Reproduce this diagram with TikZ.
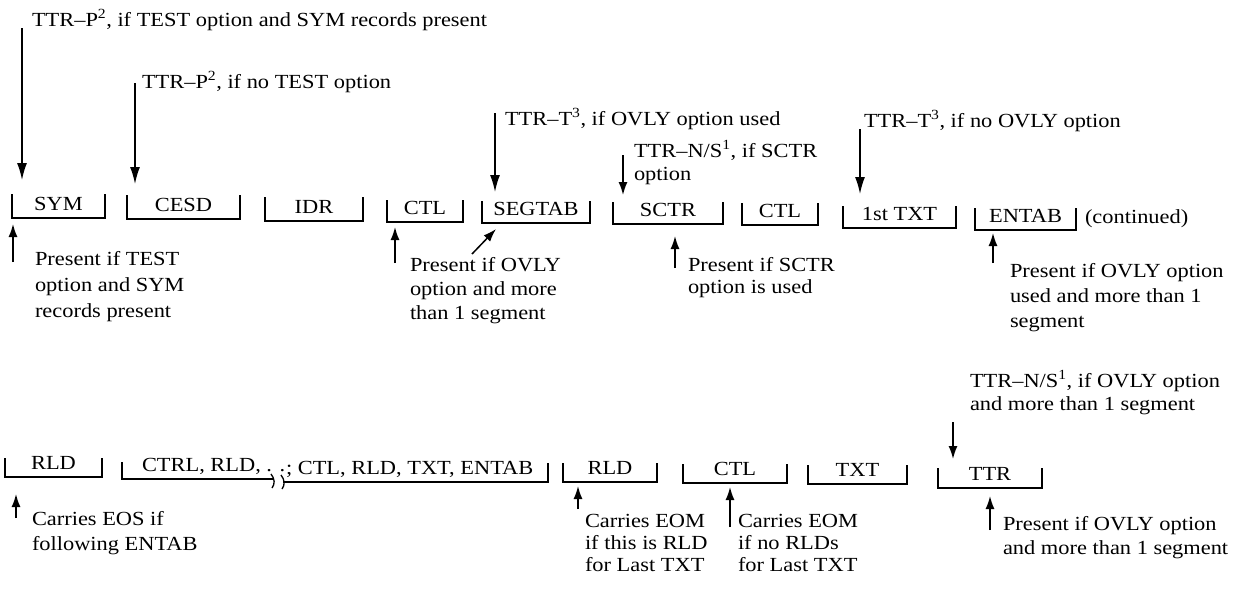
\documentclass[tikz,border=0pt]{standalone}
\usepackage{fontspec}
\setmainfont{Liberation Serif}[FakeStretch=1.12]
\usetikzlibrary{arrows.meta}
\tikzset{
  lbl/.style={font=\fontsize{20}{24}\selectfont, inner sep=0pt, outer sep=0pt},
  note/.style={inner sep=0pt, outer sep=0pt, align=left, anchor=base west, font=\fontsize{20}{#1}\selectfont},
  note/.default=24,
  brk/.style={line width=1.7pt},
  arr/.style={line width=1.5pt, -{Latex[length=13pt,width=9pt]}},
  bigarr/.style={line width=1.5pt, -{Latex[length=17pt,width=10pt]}},
}
% name, left, right, bottom, tick height, label
\newcommand\recbox[6]{%
  \draw[brk] (#2,#4-#5) -- (#2,#4) -- (#3,#4) -- (#3,#4-#5);
  \node[lbl,anchor=base] (#1) at ({(#2+#3)/2},#4-8) {#6};
}
\begin{document}
\begin{tikzpicture}[x=1pt,y=-1pt]
\useasboundingbox (0,0) rectangle (1251,590);

% ---------- top row ----------
\recbox{sym}{12}{105}{218}{24}{SYM}
\recbox{cesd}{127}{240}{219}{24}{CESD}
\recbox{idr}{265}{363}{221}{24}{IDR}
\recbox{ctla}{387}{463}{222}{22}{CTL}
\recbox{segtab}{482}{590}{223}{22}{SEGTAB}
\recbox{sctr}{613}{723}{224}{22}{SCTR}
\recbox{ctlb}{742}{818}{225}{22}{CTL}
\recbox{txta}{843}{956}{228}{22}{1st TXT}
\recbox{entab}{975}{1076}{230}{22}{ENTAB}
\node[note] (cont) at (1085,223) {(continued)};

% labels above, top row (multi-line nodes: base = last line)
\node[note] (t1) at (32,26) {TTR--P\textsuperscript{2}, if TEST option and SYM records present};
\node[note] (t2) at (142,88) {TTR--P\textsuperscript{2}, if no TEST option};
\node[note] (t3) at (505,125) {TTR--T\textsuperscript{3}, if OVLY option used};
\node[note=23] (t4) at (634,180) {TTR--N/S\textsuperscript{1}, if SCTR\\option};
\node[note] (t5) at (864,127) {TTR--T\textsuperscript{3}, if no OVLY option};

\coordinate (a1s) at (22,28);   \coordinate (a1e) at (22,180);
\coordinate (a2s) at (135,83);  \coordinate (a2e) at (135,184);
\coordinate (a3s) at (495,113); \coordinate (a3e) at (495,192);
\coordinate (a4s) at (623,155); \coordinate (a4e) at (623,195);
\coordinate (a5s) at (860,129); \coordinate (a5e) at (860,194);
\draw[bigarr] (a1s) -- (a1e);
\draw[bigarr] (a2s) -- (a2e);
\draw[bigarr] (a3s) -- (a3e);
\draw[arr] (a4s) -- (a4e);
\draw[bigarr] (a5s) -- (a5e);

% notes below, top row
\node[note=26] (n1) at (35,317) {Present if TEST\\option and SYM\\records present};
\node[note=24] (n2) at (410,319) {Present if OVLY\\option and more\\than 1 segment};
\node[note=22] (n3) at (688,293) {Present if SCTR\\option is used};
\node[note=25] (n4) at (1010,327) {Present if OVLY option\\used and more than 1\\segment};

\coordinate (b1s) at (13,262);  \coordinate (b1e) at (13,224);
\coordinate (b2s) at (395,263); \coordinate (b2e) at (395,227);
\coordinate (b3s) at (472,254); \coordinate (b3e) at (496,229);
\coordinate (b4s) at (675,268); \coordinate (b4e) at (675,236);
\coordinate (b5s) at (993,263); \coordinate (b5e) at (993,233);
\draw[arr] (b1s) -- (b1e);
\draw[arr] (b2s) -- (b2e);
\draw[arr] (b3s) -- (b3e);
\draw[arr] (b4s) -- (b4e);
\draw[arr] (b5s) -- (b5e);

% ---------- bottom row ----------
\recbox{rlda}{5}{102}{477}{19}{RLD}
% long bracket with a break
\draw[brk] (122,462) -- (122,479) -- (273,479);
\draw[brk] (283,482) -- (548,482) -- (548,463);
\draw[line width=1.3pt] (271,474) .. controls (275,479) and (275,484) .. (272,488);
\draw[line width=1.3pt] (281,475) .. controls (285,480) and (285,485) .. (282,489);
\node[note] (longa) at (142,471) {CTRL, RLD, . .};
\node[note] (longb) at (286,474) {; CTL, RLD, TXT, ENTAB};
\recbox{rldb}{563}{657}{482}{19}{RLD}
\recbox{ctlc}{683}{787}{483}{19}{CTL}
\recbox{txtb}{808}{907}{484}{19}{TXT}
\recbox{ttr}{938}{1042}{488}{20}{TTR}

\node[note=23] (t6) at (970,410) {TTR--N/S\textsuperscript{1}, if OVLY option\\and more than 1 segment};
\coordinate (a6s) at (953,422); \coordinate (a6e) at (953,459);
\draw[arr] (a6s) -- (a6e);

\node[note=25] (n5) at (32,550) {Carries EOS if\\following ENTAB};
\node[note=22] (n6) at (585,571) {Carries EOM\\if this is RLD\\for Last TXT};
\node[note=22] (n7) at (738,571) {Carries EOM\\if no RLDs\\for Last TXT};
\node[note=24] (n8) at (1003,554) {Present if OVLY option\\and more than 1 segment};

\coordinate (c1s) at (16,518);  \coordinate (c1e) at (16,494);
\coordinate (c2s) at (578,509); \coordinate (c2e) at (578,486);
\coordinate (c3s) at (730,527); \coordinate (c3e) at (730,487);
\coordinate (c4s) at (990,530); \coordinate (c4e) at (990,496);
\draw[arr] (c1s) -- (c1e);
\draw[arr] (c2s) -- (c2e);
\draw[arr] (c3s) -- (c3e);
\draw[arr] (c4s) -- (c4e);
\end{tikzpicture}
\end{document}
